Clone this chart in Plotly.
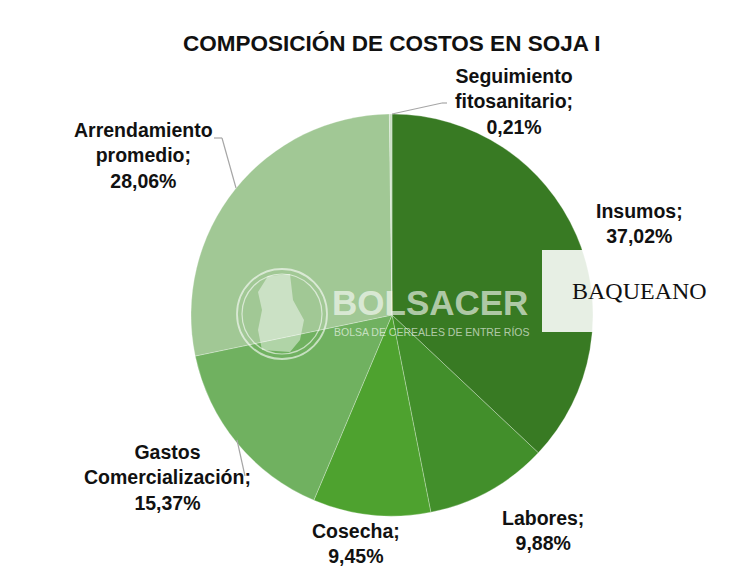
import plotly.graph_objects as go

W, H = 737, 582

# data
labels = ["Insumos", "Labores", "Cosecha", "Gastos Comercialización",
          "Arrendamiento promedio", "Seguimiento fitosanitario"]
values = [37.02, 9.88, 9.45, 15.37, 28.06, 0.21]
colors = ["#387a23", "#428f2b", "#4ea22f", "#70b160", "#a1c895", "#c9dfc3"]

# label placement (pixel centres) and leader lines
label_pos = [(639, 224), (543, 530), (356, 543), (167, 477), (143, 156), (514, 101)]
leaders = [
    [(392, 114), (442, 103), (447, 103)],
    [(236, 188), (222, 138), (214, 138)],
    [(237, 440), (245, 476)],
]


def px(x, y):
    return x / W, 1 - y / H


def fmt(name, v):
    return "<b>" + name.replace(" ", "<br>") + ";<br>" + f"{v:.2f}".replace(".", ",") + "%</b>"


cx, cy, r = 392, 315, 201
x0, y0 = px(cx - r, cy + r)
x1, y1 = px(cx + r, cy - r)

fig = go.Figure(go.Pie(
    labels=labels,
    values=values,
    sort=False,
    direction="clockwise",
    rotation=0,
    marker=dict(colors=colors, line=dict(color="rgba(255,255,255,0.35)", width=0.8)),
    textinfo="none",
    hoverinfo="label+percent",
    showlegend=False,
    domain=dict(x=[x0, x1], y=[y0, y1]),
))

annotations = []
for name, v, (lx, ly) in zip(labels, values, label_pos):
    ax, ay = px(lx, ly)
    annotations.append(dict(
        x=ax, y=ay, xref="paper", yref="paper", text=fmt(name, v),
        showarrow=False, xanchor="center", yanchor="middle",
        font=dict(family="Liberation Sans, Arial", size=19.5, color="#111111"),
    ))

tx, ty = px(392, 44)
annotations.append(dict(
    x=tx, y=ty, xref="paper", yref="paper",
    text="<b>COMPOSICIÓN DE COSTOS EN SOJA I</b>",
    showarrow=False, xanchor="center", yanchor="middle",
    font=dict(family="Liberation Sans, Arial", size=22.5, color="#111111"),
))

# watermark
bx, by = px(430, 302)
annotations.append(dict(
    x=bx, y=by, xref="paper", yref="paper", text="<b>BOLSACER</b>",
    showarrow=False, xanchor="center", yanchor="middle",
    font=dict(family="Liberation Sans, Arial", size=35, color="rgba(255,255,255,0.62)"),
))
sx, sy = px(431, 332)
annotations.append(dict(
    x=sx, y=sy, xref="paper", yref="paper", text="BOLSA DE CEREALES DE ENTRE RÍOS",
    showarrow=False, xanchor="center", yanchor="middle",
    font=dict(family="Liberation Sans, Arial", size=10.5, color="rgba(255,255,255,0.62)"),
))
qx, qy = px(639, 291)
annotations.append(dict(
    x=qx, y=qy, xref="paper", yref="paper", text="BAQUEANO",
    showarrow=False, xanchor="center", yanchor="middle",
    font=dict(family="Liberation Serif, Times New Roman", size=24, color="#111111"),
))

shapes = []
for pts in leaders:
    for (ax_, ay_), (bx_, by_) in zip(pts[:-1], pts[1:]):
        p0, p1 = px(ax_, ay_), px(bx_, by_)
        shapes.append(dict(type="line", xref="paper", yref="paper",
                           x0=p0[0], y0=p0[1], x1=p1[0], y1=p1[1],
                           line=dict(color="#a6a6a6", width=1.2)))

# logo rings
for rad, w in [(45, 1.8), (40, 1.2)]:
    a, b = px(282 - rad, 314 + rad)
    c, d = px(282 + rad, 314 - rad)
    shapes.append(dict(type="circle", xref="paper", yref="paper",
                       x0=a, y0=b, x1=c, y1=d,
                       line=dict(color="rgba(255,255,255,0.6)", width=w)))
# rough province silhouette
sil = [(268, 276), (290, 274), (293, 300), (304, 320), (300, 340), (290, 352),
       (262, 350), (258, 330), (262, 310), (258, 292)]
path = "M " + " L ".join(f"{px(x, y)[0]},{px(x, y)[1]}" for x, y in sil) + " Z"
shapes.append(dict(type="path", xref="paper", yref="paper", path=path,
                   fillcolor="rgba(255,255,255,0.45)", line=dict(width=0)))

# baqueano box
a, b = px(542, 332)
c, d = px(712, 250)
shapes.append(dict(type="rect", xref="paper", yref="paper", x0=a, y0=b, x1=c, y1=d,
                   fillcolor="rgba(255,255,255,0.88)", line=dict(width=0), layer="above"))

fig.update_layout(
    width=W, height=H,
    margin=dict(l=0, r=0, t=0, b=0),
    paper_bgcolor="white",
    plot_bgcolor="white",
    annotations=annotations,
    shapes=shapes,
)

# drop the default body margin so the figure sits at the window origin
fig.write_html("out.html", config={"displayModeBar": False},
               post_script="document.body.style.margin='0';")
